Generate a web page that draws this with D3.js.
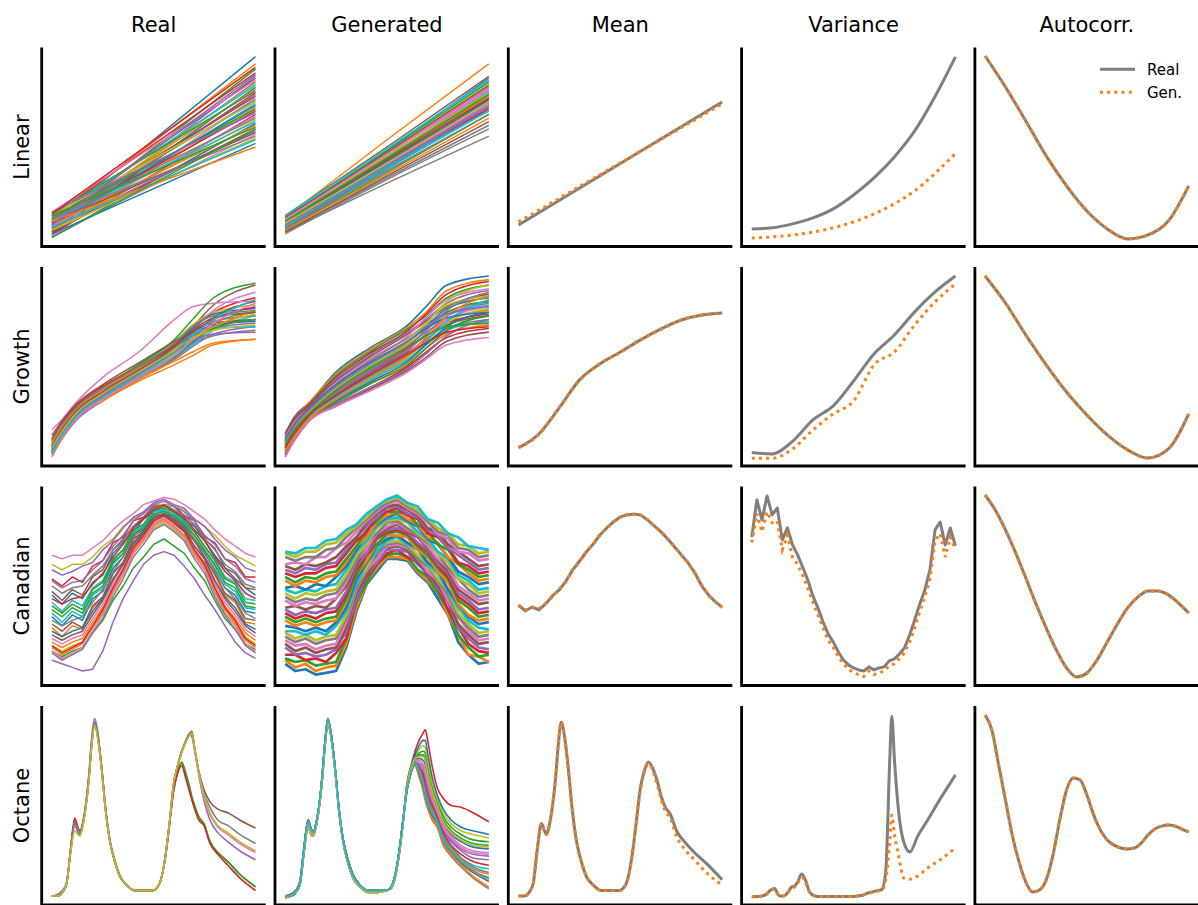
<!DOCTYPE html>
<html>
<head>
<meta charset="utf-8">
<script src="https://cdn.jsdelivr.net/npm/d3@7"></script>
<style>
  body { margin: 0; background: #fff; }
  svg { display: block; }
  text { font-family: "DejaVu Sans", sans-serif; fill: #000; }
</style>
</head>
<body>
<svg id="chart" width="1198" height="905"></svg>
<script>
// ---------------- labels ----------------
const columnTitles = ["Real", "Generated", "Mean", "Variance", "Autocorr."];
const datasetNames = ["Linear", "Growth", "Canadian", "Octane"];
const legendLabels = ["Real", "Gen."];

// ---------------- sampling grids ----------------
const growthAges = [1, 1.75, 3, 5.25, 8.25, 11.25, 12.75, 14.5, 18];
const octaneWavelengths = [900, 923, 942, 958, 974, 990, 1002, 1010, 1021, 1033, 1045, 1056, 1068, 1080, 1096, 1111, 1127, 1147, 1166, 1194, 1225, 1265, 1296, 1316, 1332, 1347, 1363, 1378, 1394, 1410, 1426, 1442, 1450, 1461, 1477, 1497, 1521, 1552, 1591, 1638, 1700];

// ---------------- Linear ----------------
const linearReal = [[8,100],[10,96],[6,93],[12,91],[3,89],[9,88],[14,87],[5,86],[7,85],[11,84],[2,83],[8,82],[13,81],[4,80],[6,79],[10,78],[1,77],[9,76],[12,75],[5,74],[7,73],[3,72],[11,71],[8,70],[14,69],[2,68],[6,67],[10,66],[4,65],[9,64],[0,63],[7,62],[12,61],[3,60],[5,59],[8,58],[1,57],[11,56],[4,55],[6,54],[2,52],[9,50],[0,60],[13,94],[7,90]];
const linearGen = [[8,48,88],[11,54,96],[5,42,80],[9,46,83],[4,40,77],[12,50,89],[7,44,82],[3,30,56],[10,47,85],[6,43,81],[9,45,80],[5,40,75],[11,48,86],[4,38,72],[8,44,79],[6,41,76],[10,46,83],[3,33,62],[7,42,78],[12,49,87],[5,39,74],[9,44,78],[4,36,68],[8,43,77],[6,40,73],[11,47,84],[7,41,74],[2,32,60],[10,45,80],[5,38,70],[8,42,76],[4,35,66],[9,44,79],[6,39,71],[7,40,72],[3,34,64],[10,46,82],[5,37,68],[8,41,75],[6,39,70]];
const linearMeanReal = [6.9, 74.9];
const linearMeanGen = [8.6, 73.8];
const linearVarReal = [4.7,5.3,7.5,10.8,15.8,23.5,32.9,44.5,58.9,77.9,99.8];
const linearVarGen = [-0.3,0.3,1.4,3.0,5.3,8.6,13.0,18.6,25.8,35.4,46.4];
const linearAcfReal = [100.3,83.2,64.4,45.1,28.5,14.6,4.7,-0.8,1.4,9.1,28.5];
const linearAcfGen = [100.3,83.2,64.4,45.1,28.5,14.6,4.7,-0.8,1.4,9.1,28.5];

// ---------------- Growth ----------------
const growthReal = [
  [5,13,24,35,48,60,67,72,76],[2,10,21,31,42,51,56,62,65],[3,11,22,33,46,58,66,74,80],[8,16,27,38,50,63,72,80,88],
  [1,9,20,31,43,54,61,68,72],[6,15,25,36,49,62,72,84,95],[15,20,30,44,58,76,83,85,86],[4,12,23,34,46,57,63,67,70],
  [10,18,28,39,51,64,73,80,84],[2,10,21,32,44,55,62,70,78],[7,15,26,37,49,61,68,73,75],[0,9,21,31,43,53,58,63,65],
  [9,17,27,38,51,65,76,88,96],[5,14,24,35,47,59,67,77,86],[3,12,23,34,45,56,64,71,74],[12,19,29,40,52,64,70,74,76],
  [6,14,25,36,48,60,70,81,91],[4,13,24,35,47,60,69,75,78],[2,10,22,33,45,57,65,72,79],[8,17,27,38,50,62,68,71,72],
  [5,13,24,35,48,61,71,79,82],[7,16,26,37,49,60,66,72,81],[3,11,22,33,44,55,63,71,76],[10,18,28,39,50,62,69,76,83],
  [4,12,23,34,46,58,64,68,69],[6,14,25,36,48,61,70,77,80],[1,10,21,32,44,56,65,74,85],[9,17,27,38,50,63,72,78,81],
  [5,13,24,35,47,59,66,70,73],[2,11,22,33,45,58,67,76,87]
];
const growthGen = [
  [13,22,30,47,61,73,83,95,100],[12,21,30,46,60,72,80,92,98],[11,20,29,45,59,71,78,88,95],[12,21,29,44,58,70,79,90,97],
  [10,19,28,43,57,69,76,85,92],[9,18,28,42,56,68,75,83,90],[11,19,27,41,55,67,77,87,93],[8,17,27,40,54,66,73,80,86],
  [10,18,26,39,53,65,74,84,89],[7,16,26,38,52,64,71,78,84],[9,17,25,38,51,63,72,82,88],[6,15,25,37,50,62,69,76,81],
  [8,16,24,36,49,61,70,80,86],[5,14,24,35,48,60,67,74,79],[7,15,23,35,48,59,68,78,85],[4,13,23,34,47,58,65,73,78],
  [6,14,22,33,46,57,66,76,83],[3,12,22,33,45,56,63,71,76],[5,13,22,32,44,55,64,74,82],[2,11,21,31,43,54,62,70,75],
  [4,12,21,31,42,53,62,72,80],[1,10,20,30,41,52,60,68,73],[3,11,21,30,41,51,60,70,78],[0,9,20,29,39,50,58,66,71],
  [2,10,20,29,39,49,57,67,76],[1,9,20,28,38,48,55,64,69],[0,9,20,28,37,47,54,62,66],[6,14,23,36,49,61,70,81,91],
  [8,16,25,38,51,63,73,86,95],[4,12,22,33,45,56,64,75,87],[10,18,27,40,53,64,71,77,80],[3,11,21,32,44,56,66,78,89],
  [7,15,24,37,50,61,67,72,74],[5,13,23,34,46,57,63,69,72],[9,17,26,39,52,64,72,79,83]
];
const growthMeanReal = [5.0,12.7,27.1,42.6,51.4,58.0,64.7,70.8,75.7,78.5,79.6];
const growthMeanGen = [5.3,12.4,27.5,42.2,51.7,57.7,65.0,70.5,75.9,78.3,79.8];
const growthVarReal = [2.5,1.7,8.6,20.5,28.2,42.0,56.9,67.4,80.2,91.2,100];
const growthVarGen = [-0.7,-0.7,4.4,14.9,23.8,31.0,50.9,58.0,73.0,85.7,95.6];
const growthAcfReal = [100,85.1,67.4,50.9,35.9,23.2,12.2,3.9,-0.6,4.4,23.8];
const growthAcfGen = [100,85.1,67.4,50.9,35.9,23.2,12.2,3.9,-0.6,4.4,23.8];

// ---------------- Canadian weather ----------------
const canadianReal = [
  [45,40,46,43,52,56,68,74,80,87,91,94,92,87,83,75,67,60,54,49,45],
  [27,22,28,26,38,43,57,63,76,80,88,90,88,82,75,66,56,45,41,30,29],
  [14,11,14,16,24,31,42,50,60,66,73,76,72,68,60,53,42,32,26,18,15],
  [54,50,55,52,61,64,74,77,86,88,94,95,94,89,86,77,74,65,63,55,55],
  [9,7,5,3,4,14,30,43,53,62,67,69,67,61,54,45,37,28,19,13,10],
  [47,42,48,45,55,59,70,76,83,88,94,95,94,89,84,76,71,60,57,49,48],
  [67,65,67,67,71,75,81,86,90,95,97,99,98,95,91,87,81,76,72,68,66],
  [50,46,49,50,56,61,70,75,83,87,93,95,92,89,84,76,70,62,58,51,49],
  [62,59,62,62,66,72,76,83,87,91,95,95,94,92,87,83,78,72,67,64,61],
  [41,36,42,39,49,53,65,70,81,84,91,92,90,85,80,72,65,55,52,43,42],
  [33,28,34,31,43,47,60,66,78,81,89,90,88,83,76,68,59,49,45,36,35],
  [19,16,19,21,30,38,49,59,70,77,84,87,83,78,69,61,49,39,32,24,20],
  [39,35,40,37,48,52,64,70,81,84,92,93,91,86,80,72,64,54,51,41,40],
  [43,40,43,44,51,57,66,73,82,87,92,95,91,88,81,75,66,58,53,46,43],
  [59,56,58,61,63,70,75,82,88,91,96,98,95,93,87,83,76,70,66,60,58],
  [29,25,30,27,39,44,57,63,76,80,88,89,87,81,75,66,57,46,42,32,31],
  [21,18,21,23,32,40,51,60,72,78,85,88,84,80,70,63,51,41,34,26,22],
  [31,28,31,33,41,48,58,66,77,83,89,92,88,84,76,69,58,49,43,35,32],
  [17,14,17,19,28,36,47,57,68,75,82,85,81,76,67,59,47,37,30,22,18],
  [35,30,36,33,45,49,62,68,80,83,91,92,90,85,78,70,61,51,47,38,37],
  [25,22,25,27,36,43,54,62,73,79,86,89,85,81,72,65,53,44,38,29,26],
  [16,12,15,18,27,35,47,57,69,76,84,87,83,78,68,60,47,37,29,20,16],
  [37,33,38,35,46,50,63,68,79,82,90,91,89,84,78,70,62,52,49,39,38],
  [17,13,16,19,28,37,49,59,71,78,86,89,85,80,70,62,49,38,31,21,17],
  [53,49,52,53,59,64,72,78,86,90,95,97,94,91,86,78,73,65,61,54,52],
  [23,20,23,25,34,42,53,62,74,80,87,90,86,82,72,65,53,43,36,28,24],
  [14,10,13,16,25,34,46,56,68,75,83,86,82,77,67,59,46,35,28,18,14],
  [13,9,12,15,24,32,44,54,66,73,81,84,80,75,65,57,44,34,26,17,13]
];
const canadianGen = [
  [7,3,4,1,2,3,16,36,51,58,65,65,64,57,52,43,34,19,12,7,8],
  [9,5,7,3,5,6,18,38,52,60,66,66,65,58,53,46,34,23,12,11,8],
  [10,8,9,6,7,8,21,41,52,62,67,68,66,59,55,46,37,23,16,11,12],
  [12,12,9,10,8,13,21,43,55,62,68,70,66,63,56,49,37,27,18,14,13],
  [16,12,13,11,12,15,25,43,56,63,70,70,69,62,57,49,41,27,21,16,15],
  [18,14,16,13,15,16,27,46,56,66,71,72,70,63,58,50,42,29,23,18,19],
  [20,17,18,15,17,18,30,48,59,65,72,73,71,66,58,53,42,33,25,20,21],
  [22,19,21,18,20,21,32,49,60,68,73,74,72,65,61,53,45,33,27,22,23],
  [24,21,23,20,22,23,34,51,60,70,74,75,73,67,62,54,47,35,29,24,25],
  [25,25,23,25,23,28,36,51,63,69,75,77,73,70,62,57,47,38,31,27,26],
  [28,27,25,27,25,30,38,54,63,72,76,78,74,71,63,59,48,40,33,29,30],
  [31,28,30,28,30,31,41,56,64,73,78,78,77,70,66,58,52,40,34,31,32],
  [33,30,32,30,32,33,43,56,67,73,79,80,78,72,67,60,54,42,38,33,34],
  [35,32,34,32,35,36,45,59,67,76,80,81,79,73,69,61,55,44,40,35,36],
  [37,34,36,35,37,38,47,61,68,77,81,82,80,74,70,62,57,46,42,37,38],
  [38,39,37,39,38,43,50,62,71,77,82,84,80,77,71,64,58,48,44,40,41],
  [42,39,41,40,42,43,52,64,71,79,83,85,81,78,72,65,60,50,46,42,43],
  [44,41,43,42,45,46,54,64,74,79,85,86,82,78,74,68,60,54,48,44,45],
  [46,43,46,45,47,48,56,67,73,82,86,87,85,79,75,68,63,54,51,46,47],
  [48,46,48,47,50,51,59,69,75,83,87,88,86,80,76,69,65,56,53,48,49],
  [49,50,48,51,50,55,61,70,78,84,88,90,86,83,76,73,66,58,55,51,52],
  [53,50,53,52,55,56,63,72,77,85,89,91,87,84,77,74,66,62,57,53,54],
  [55,52,55,54,57,58,65,72,81,86,91,91,90,84,80,73,70,62,59,55,56],
  [57,55,57,57,60,61,68,75,80,88,91,93,89,87,79,77,71,63,61,57,58],
  [59,57,60,59,62,63,70,77,83,88,93,94,90,88,81,78,71,67,63,59,60],
  [61,59,62,61,63,66,72,77,85,90,94,95,92,89,82,80,73,69,65,61,62],
  [62,63,62,66,66,71,74,80,86,91,95,97,93,90,85,79,76,69,68,64,65],
  [66,64,66,66,70,71,77,82,87,92,96,98,94,91,86,80,78,71,70,66,67],
  [68,66,69,69,73,74,79,83,88,94,97,99,95,92,87,82,79,73,72,68,69],
  [69,68,71,71,75,76,81,84,90,94,98,100,96,94,87,85,79,77,72,71,70]
];
const canadianMeanReal = [39.5,36.2,38.4,36.8,40.1,44.5,47.8,52.8,58.9,63.8,68.8,73.2,78.2,82.1,85.4,88.2,89.3,89.8,89.3,86.5,83.2,79.9,76.0,71.6,67.2,62.7,57.2,50.0,45.1,41.2,38.4];
const canadianMeanGen = [39,36.8,38,37.5,40.5,44,48.3,52.3,59.3,63.4,69.2,72.8,78.6,81.8,85.7,88,89.6,89.5,89.1,86.8,82.9,80.2,75.7,71.9,66.9,63,56.8,50.4,44.7,41.5,38];
const canadianVarReal = [77.1,97.6,86.5,99.8,89.3,93.1,75.5,82.1,72.7,67.2,60.5,53.3,44.5,37.9,30.1,23.5,19.1,13.5,9.1,6.4,4.7,3.6,3.0,5.3,3.6,4.7,5.3,8.6,9.7,12.4,15.8,22.9,31.2,40.1,47.8,58.9,81.0,85.4,72.7,82.1,72.1];
const canadianVarGen = [74,90,80,91,85,86,70,78,66,62,56,49,41,34,27,20,16,11,7,4,2,1,0,3,1,2,3,6,7,10,13,19,27,36,44,54,75,79,66,77,70];
const canadianAcfReal = [100.3,92.0,81.0,68.3,54.4,40.1,26.8,14.6,4.7,-0.3,1.9,9.1,19.1,29.0,37.9,43.9,47.3,47.3,45.1,40.6,35.1];
const canadianAcfGen = [100.3,92.0,81.0,68.3,54.4,40.1,26.8,14.6,4.7,-0.3,1.9,9.1,19.1,29.0,37.9,43.9,47.3,47.3,45.1,40.6,35.1];

// ---------------- Octane spectra ----------------
const octaneReal = [
  [0,0,2,7,25,40,36,34,39,49,64,83,96,89,70,48,31,19,11,6,3,3,3,5,11,23,41,58,68,73,66,58,54,49,43,40,30,24,19,12,5],
  [0,0,2,7,26,41,37,35,40,49,64,83,95,88,69,47,31,19,11,6,3,3,3,5,11,23,41,59,69,73,67,59,54,49,43,40,30,24,19,12,5],
  [0,0,2,7,26,42,38,35,40,50,65,84,96,89,70,48,31,19,11,6,3,3,3,5,11,23,41,59,69,74,68,60,55,50,44,40,30,24,19,12,5],
  [0,0,2,7,27,43,38,36,40,50,65,84,96,89,70,48,31,19,11,6,3,3,3,5,11,22,40,58,68,72,65,57,53,48,42,39,29,23,17,10,3],
  [0,1,3,8,26,41,37,35,40,51,67,87,98,91,71,49,32,20,12,6,3,3,3,5,11,24,42,62,72,80,85,89,88,80,67,53,42,35,30,25,20],
  [0,0,2,7,25,40,36,34,39,49,64,83,95,88,69,47,31,19,11,6,3,3,3,5,11,23,42,62,72,80,86,90,91,82,69,59,52,48,46,42,37.5],
  [0,0,2,7,25,39,35,34,39,49,64,83,95,88,69,47,31,19,11,6,3,3,3,5,11,23,42,62,72,79,85,89,89,81,68,55,45,38,34,29,24],
  [0,0,2,7,25,40,36,34,39,49,64,83,96,89,70,48,31,19,11,6,3,3,3,5,11,23,42,62,72,80,85,90,90,81,69,57,49,42,39,34,29],
  [0,0,2,7,24,36,34,33,38,48,63,82,94,87,69,47,31,19,11,6,3,3,3,5,11,23,42,62,72,79,85,89,90,81,68,56,46,39,35,30,25]
];
const octaneGen = [
  [0,0,2,7,25,40,36,34,39,49,64,83,96,89,70,48,31,19,11,6,3,3,3,5,11,23,41,60,70,75,76,75,73,66,57,49,40,34,30,27,26],
  [0,1,3,8,27,42,37,35,40,50,65,84,97,90,71,49,32,20,12,6,3,3,3,5,11,24,42,58,68,73,69,63,58,52,46,42,32,26,20,15,12],
  [-1,0,2,6,24,38,34,33,38,48,63,82,95,88,69,47,30,18,10,5,2,2,3,4,10,22,40,60,70,76,79,80,79,71,61,52,44,38,34,31,30],
  [0,0,2,7,26,41,37,35,40,50,66,85,98,90,71,48,31,19,11,6,3,3,3,5,12,24,42,62,72,80,86,90,92,85,72,60,54,50,49,46,41],
  [0,0,2,7,25,40,36,34,39,49,64,83,96,89,70,48,31,19,11,6,3,3,3,5,11,23,41,59,69,74,72,69,65,59,52,45,36,30,25,21,20],
  [0,1,3,8,27,42,37,35,40,50,65,84,97,90,71,49,32,20,12,6,3,3,3,5,11,24,42,58,68,73,67,60,55,49,44,40,30,24,18,13,8],
  [-1,0,2,6,24,38,34,33,38,48,63,82,95,88,69,47,30,18,10,5,2,2,3,4,10,22,40,59,69,75,75,73,70,63,55,47,39,33,28,25,24],
  [0,0,2,7,26,41,37,35,40,50,66,85,98,90,71,48,31,19,11,6,3,3,3,5,12,24,42,58,68,72,66,58,53,48,42,38,28,22,16,10,4],
  [0,0,2,7,25,40,36,34,39,49,64,83,96,89,70,48,31,19,11,6,3,3,3,5,11,23,41,61,71,77,81,83,82,74,63,54,46,40,36,34,32],
  [0,1,3,8,27,42,37,35,40,50,65,84,97,90,71,49,32,20,12,6,3,3,3,5,11,24,42,58,69,73,70,65,60,54,48,43,33,27,21,17,15],
  [-1,0,2,6,24,38,34,33,38,48,63,82,95,88,69,47,30,18,10,5,2,2,3,4,10,22,40,61,71,78,83,86,86,78,66,56,48,42,38,36,34],
  [0,0,2,7,26,41,37,35,40,50,66,85,98,90,71,48,31,19,11,6,3,3,3,5,12,24,42,58,68,72,66,59,54,48,43,39,29,23,17,11,5],
  [0,0,2,7,25,40,36,34,39,49,64,83,96,89,70,48,31,19,11,6,3,3,3,5,11,23,41,60,70,76,78,78,76,68,59,50,42,36,32,29,28],
  [0,1,3,8,27,42,37,35,40,50,65,84,97,90,71,49,32,20,12,6,3,3,3,5,11,24,42,59,69,74,71,67,62,56,50,44,35,28,23,19,17],
  [-1,0,2,6,24,38,34,33,38,48,63,82,95,88,69,47,30,18,10,5,2,2,3,4,10,22,40,59,69,74,73,71,67,61,53,46,37,31,26,23,22],
  [0,0,2,7,26,41,37,35,40,50,66,85,98,90,71,48,31,19,11,6,3,3,3,5,12,24,42,58,68,73,68,61,56,50,45,41,31,25,19,14,10],
  [0,0,2,7,25,40,36,34,39,49,64,83,96,89,70,48,31,19,11,6,3,3,3,5,11,23,41,60,70,75,74,72,68,62,54,47,38,32,27,24,23],
  [0,1,3,8,27,42,37,35,40,50,65,84,97,90,71,49,32,20,12,6,3,3,3,5,11,24,42,59,69,74,70,64,59,53,47,42,33,27,21,16,13],
  [-1,0,2,6,24,38,34,33,38,48,63,82,95,88,69,47,30,18,10,5,2,2,3,4,10,22,40,60,70,76,77,77,75,67,58,50,41,35,31,28,27],
  [0,0,2,7,26,41,37,35,40,50,66,85,98,90,71,48,31,19,11,6,3,3,3,5,12,24,42,58,68,73,69,62,57,51,46,41,31,25,19,14,9]
];
const octaneMeanReal = [0,0,2,7,26,40,36,34,39,49,64,83,96,89,70,48,31,19,11,6,3,3,3,5,11,23,41,59,69,74,71,65,61,55,49,45,36,30,24,18,9];
const octaneMeanGen = [0,0,2,7,26,40,36,34,39,49,64,83,96,89,70,48,31,19,11,6,3,3,3,5,11,23,41,58,68,73,70,63,59,53,47,43,33,26,20,13,6];
const octaneVarReal = [-0.4,-0.3,0,1.1,3.3,4.1,1.1,0,0,0.5,2.7,4.9,5.5,7.7,12.1,8.8,2.2,0,-0.3,-0.3,-0.3,-0.3,-0.3,0,0.2,1.1,1.9,2.4,3.0,3.5,13.2,75.1,99.4,74.0,46.4,29.8,24.3,33.1,42.0,53.1,66.9];
const octaneVarGen = [-0.4,-0.3,0,1,3,3.8,1,0,0,0.4,2.4,4.4,5,7,10.5,7.5,2,0,-0.3,-0.3,-0.3,-0.3,-0.3,0,0.2,1,1.7,2.2,2.7,3.2,8.8,30.9,44.7,33.7,22.1,9.9,9.3,11.0,15.5,19.8,26.5];
const octaneAcfReal = [100,91.7,72.4,53.0,33.7,18.8,7.7,2.2,3.3,8.8,22.6,42.0,58.5,65.2,64.1,55.8,44.7,36.4,30.9,28.1,26.5,25.9,26.5,29.2,33.7,37.0,38.6,39.2,38.6,37.0,35.3];
const octaneAcfGen = [100,91.7,72.4,53.0,33.7,18.8,7.7,2.2,3.3,8.8,22.6,42.0,58.5,65.2,64.1,55.8,44.7,36.4,30.9,28.1,26.5,25.9,26.5,29.2,33.7,37.0,38.6,39.2,38.6,37.0,35.3];

// ---------------- figure layout ----------------
const palette = d3.schemeCategory10;
const REAL_GRAY = "#7f7f7f";
const GEN_ORANGE = "#ff7f0e";
const panelWidth = 224, panelHeight = 199;
const colLeft = c => 41.7 + c * 233.3;
const rowTop = r => 47.5 + r * 219.5;

const rows = [
  { grid: null, real: linearReal, gen: linearGen, many: d3.curveLinear, genCurve: d3.curveMonotoneX,
    mean: [linearMeanReal, linearMeanGen], variance: [linearVarReal, linearVarGen], acf: [linearAcfReal, linearAcfGen],
    statGrid: null, statCurve: d3.curveMonotoneX, realWidth: 1.5, genWidth: 1.5 },
  { grid: growthAges, real: growthReal, gen: growthGen, many: d3.curveMonotoneX, genCurve: d3.curveMonotoneX,
    mean: [growthMeanReal, growthMeanGen], variance: [growthVarReal, growthVarGen], acf: [growthAcfReal, growthAcfGen],
    statGrid: null, statCurve: d3.curveMonotoneX, realWidth: 1.5, genWidth: 1.6 },
  { grid: null, real: canadianReal, gen: canadianGen, many: d3.curveLinear, genCurve: d3.curveLinear,
    mean: [canadianMeanReal, canadianMeanGen], variance: [canadianVarReal, canadianVarGen], acf: [canadianAcfReal, canadianAcfGen],
    statGrid: null, statCurve: d3.curveLinear, realWidth: 1.5, genWidth: 2.7 },
  { grid: octaneWavelengths, real: octaneReal, gen: octaneGen, many: d3.curveMonotoneX, genCurve: d3.curveMonotoneX,
    mean: [octaneMeanReal, octaneMeanGen], variance: [octaneVarReal, octaneVarGen], acf: [octaneAcfReal, octaneAcfGen],
    statGrid: octaneWavelengths, statCurve: d3.curveMonotoneX, realWidth: 1.6, genWidth: 1.6 }
];

const svg = d3.select("#chart");

// x scale with the 5% side margins of an autoscaled axis
function xScaleFor(grid, n, left) {
  const lo = grid ? grid[0] : 0;
  const hi = grid ? grid[grid.length - 1] : n - 1;
  const pad = (hi - lo) * 0.05;
  return d3.scaleLinear().domain([lo - pad, hi + pad]).range([left, left + panelWidth]);
}
function yScaleFor(top) {
  return d3.scaleLinear().domain([-5, 105]).range([top + panelHeight, top]);
}

function drawSpines(g, left, top) {
  g.append("path")
    .attr("d", `M${left},${top}V${top + panelHeight}H${left + panelWidth}`)
    .attr("fill", "none").attr("stroke", "#000").attr("stroke-width", 2.8)
    .attr("stroke-linejoin", "miter");
}

function drawMany(g, curves, grid, left, top, curve, width) {
  const y = yScaleFor(top);
  curves.forEach((vals, i) => {
    const x = xScaleFor(grid, vals.length, left);
    const line = d3.line()
      .x((d, j) => x(grid ? grid[j] : j))
      .y(d => y(d))
      .curve(curve);
    g.append("path").attr("d", line(vals))
      .attr("fill", "none").attr("stroke", palette[i % 10])
      .attr("stroke-width", width).attr("stroke-linejoin", "round");
  });
}

function drawPair(g, pair, grid, left, top, curve) {
  const y = yScaleFor(top);
  pair.forEach((vals, i) => {
    const x = xScaleFor(grid, vals.length, left);
    const line = d3.line()
      .x((d, j) => x(grid ? grid[j] : j))
      .y(d => y(d))
      .curve(curve);
    const p = g.append("path").attr("d", line(vals)).attr("fill", "none")
      .attr("stroke-width", 3);
    if (i === 0) p.attr("stroke", REAL_GRAY).attr("stroke-linejoin", "round");
    else p.attr("stroke", GEN_ORANGE).attr("stroke-dasharray", "3,4.2");
  });
}

rows.forEach((row, r) => {
  const top = rowTop(r);
  const panels = [0, 1, 2, 3, 4].map(c => svg.append("g").attr("class", `panel r${r} c${c}`));

  drawMany(panels[0], row.real, row.grid, colLeft(0), top, row.many, row.realWidth);
  drawMany(panels[1], row.gen, row.grid, colLeft(1), top, row.genCurve, row.genWidth);
  drawPair(panels[2], row.mean, row.statGrid, colLeft(2), top, row.statCurve);
  drawPair(panels[3], row.variance, row.statGrid, colLeft(3), top, row.statCurve);
  drawPair(panels[4], row.acf, null, colLeft(4), top, d3.curveMonotoneX);

  panels.forEach((g, c) => drawSpines(g, colLeft(c), top));

  // dataset name on the left of each row
  svg.append("text")
    .attr("transform", `translate(28.5,${top + panelHeight / 2}) rotate(-90)`)
    .attr("text-anchor", "middle")
    .attr("font-size", 21)
    .text(datasetNames[r]);
});

// column titles
columnTitles.forEach((t, c) => {
  svg.append("text")
    .attr("x", colLeft(c) + panelWidth / 2)
    .attr("y", 32.3)
    .attr("text-anchor", "middle")
    .attr("font-size", 21)
    .text(t);
});

// legend in the first autocorrelation panel
const legend = svg.append("g").attr("class", "legend");
legendLabels.forEach((label, i) => {
  const ly = 69.3 + i * 23;
  const seg = legend.append("line")
    .attr("x1", 1100).attr("x2", 1135).attr("y1", ly).attr("y2", ly)
    .attr("stroke-width", 3);
  if (i === 0) seg.attr("stroke", REAL_GRAY);
  else seg.attr("stroke", GEN_ORANGE).attr("stroke-dasharray", "3,4.2");
  legend.append("text")
    .attr("x", 1147).attr("y", ly + 5.5)
    .attr("font-size", 15)
    .text(label);
});
</script>
</body>
</html>
